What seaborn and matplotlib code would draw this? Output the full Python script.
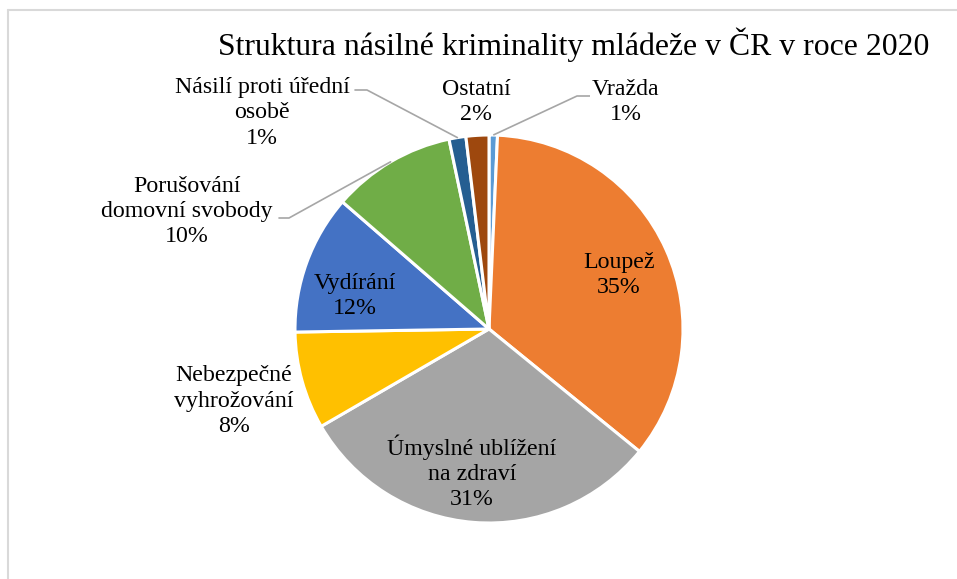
import numpy as np
import matplotlib
matplotlib.use("Agg")
import matplotlib.pyplot as plt
import seaborn as sns

categories = ["Vražda", "Loupež", "Úmyslné ublížení\nna zdraví", "Nebezpečné\nvyhrožování",
              "Vydírání", "Porušování\ndomovní svobody", "Násilí proti úřední\nosobě", "Ostatní"]
values = [0.7, 35.1, 30.7, 8.1, 11.6, 10.3, 1.4, 1.9]
colors = ["#5B9BD5", "#ED7D31", "#A5A5A5", "#FFC000", "#4472C4", "#70AD47", "#255E91", "#9E480E"]
title = "Struktura násilné kriminality mládeže v ČR v roce 2020"

sns.set_theme(style="white")
plt.rcParams['font.family'] = ['Liberation Serif', 'DejaVu Serif']

W, H = 957, 579
fig = plt.figure(figsize=(W / 100, H / 100), dpi=100)
ax = fig.add_axes([0, 0, 1, 1])

cx, cy, R = 489, H - 329, 194
wedges, _ = ax.pie(values, colors=colors, startangle=90, counterclock=False,
                   center=(cx, cy), radius=R,
                   wedgeprops=dict(edgecolor="white", linewidth=2.2))
ax.set_xlim(0, W)
ax.set_ylim(0, H)
ax.set_aspect("equal")
ax.axis("off")

total = sum(values)
pct = [f"{round(v / total * 100):.0f}%" for v in values]

fs = 17.2
# label positions in pixel coords (x, y from top)
label_pos = {
    0: (626, 102),
    1: (619, 275),
    2: (472, 472),
    3: (234, 401),
    4: (355, 296),
    5: (187, 211),
    6: (262, 113),
    7: (476, 102),
}
for i, (x, y) in label_pos.items():
    ax.text(x, H - y, f"{categories[i]}\n{pct[i]}", ha="center", va="center",
            fontsize=fs, color="#000000", linespacing=1.25)

def edge_point(w):
    ang = np.deg2rad((w.theta1 + w.theta2) / 2)
    return cx + R * np.cos(ang), cy + R * np.sin(ang)

leader_col = "#A6A6A6"
# Vražda
ex, ey = edge_point(wedges[0])
ax.plot([590, 577, ex], [H - 96, H - 96, ey], color=leader_col, lw=1.2, solid_capstyle="butt")
# Násilí proti úřední osobě
ex, ey = edge_point(wedges[6])
ax.plot([355, 367, ex], [H - 90, H - 90, ey], color=leader_col, lw=1.2)
# Porušování domovní svobody
ex, ey = edge_point(wedges[5])
ax.plot([279, 289, ex], [H - 218, H - 218, ey], color=leader_col, lw=1.2)

fig.text(574 / W, 1 - 45 / H, title, ha="center", va="center", fontsize=22.9, color="#000000")

# chart area frame
fig.add_artist(plt.Line2D([8 / W, 1], [1 - 10 / H, 1 - 10 / H], transform=fig.transFigure,
                          color="#D9D9D9", lw=1.5))
fig.add_artist(plt.Line2D([8 / W, 8 / W], [0, 1 - 10 / H], transform=fig.transFigure,
                          color="#D9D9D9", lw=1.5))

fig.savefig("out.png", dpi=100, facecolor="white")
